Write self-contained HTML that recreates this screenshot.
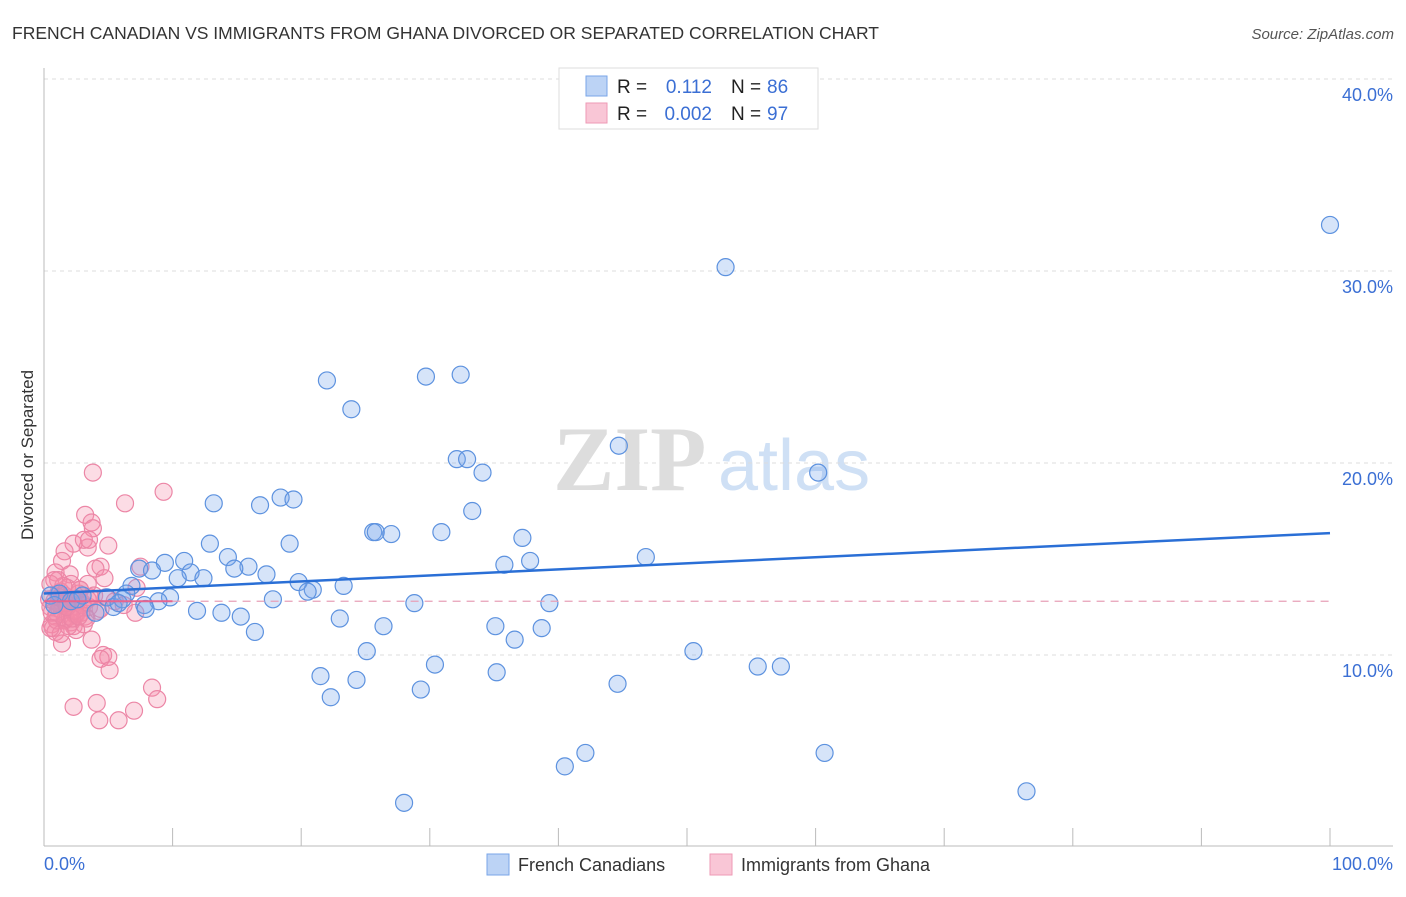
<!DOCTYPE html>
<html><head><meta charset="utf-8"><style>
body{margin:0;background:#fff;font-family:"Liberation Sans",sans-serif;}
</style></head><body>
<svg id="chart" width="1406" height="892" xmlns="http://www.w3.org/2000/svg">
<text x="12" y="39" font-size="17.5" fill="#333">FRENCH CANADIAN VS IMMIGRANTS FROM GHANA DIVORCED OR SEPARATED CORRELATION CHART</text>
<text x="1394" y="39" font-size="15" fill="#555" font-style="italic" text-anchor="end">Source: ZipAtlas.com</text>
<g>
<text x="553" y="490" font-size="92" font-family="Liberation Serif,serif" font-weight="bold" fill="#ddd">ZIP</text>
<text x="718" y="490" font-size="72" fill="#cfe0f5">atlas</text>
</g>
<g id="grid"></g>
<g id="axes"></g>
<g id="pink"></g>
<g id="blue"></g>
<g id="trends"></g>
<text x="33" y="455" font-size="17" fill="#333" text-anchor="middle" transform="rotate(-90 33 455)">Divorced or Separated</text>
<text x="44" y="870" font-size="18" fill="#3b6fd4">0.0%</text>
<text x="1393" y="870" font-size="18" fill="#3b6fd4" text-anchor="end">100.0%</text>
<g>
<rect x="559" y="68" width="259" height="61" fill="#fff" stroke="#ddd"/>
<rect x="586" y="76" width="21" height="20" fill="#bcd3f5" stroke="#7aa6e8"/>
<rect x="586" y="103" width="21" height="20" fill="#f9c6d6" stroke="#ee9ab5"/>
<text x="617" y="93" font-size="19" fill="#222">R = </text><text x="712" y="93" font-size="19" fill="#3b6fd4" text-anchor="end">0.112</text>
<text x="731" y="93" font-size="19" fill="#222">N = </text><text x="767" y="93" font-size="19" fill="#3b6fd4">86</text>
<text x="617" y="120" font-size="19" fill="#222">R = </text><text x="712" y="120" font-size="19" fill="#3b6fd4" text-anchor="end">0.002</text>
<text x="731" y="120" font-size="19" fill="#222">N = </text><text x="767" y="120" font-size="19" fill="#3b6fd4">97</text>
</g>
<g>
<rect x="487" y="854" width="22" height="21" fill="#bcd3f5" stroke="#7aa6e8"/>
<text x="518" y="871" font-size="18" fill="#333">French Canadians</text>
<rect x="710" y="854" width="22" height="21" fill="#f9c6d6" stroke="#ee9ab5"/>
<text x="741" y="871" font-size="18" fill="#333">Immigrants from Ghana</text>
</g>
</svg>
<script>
const yTicks=[10,20,30,40];
const yTickLabels=["10.0%","20.0%","30.0%","40.0%"];
const xTicks=[10,20,30,40,50,60,70,80,90,100];
const blueX=[100,53,22,23.9,29.7,32.4,44.7,60.2,32.1,32.9,34.1,13.2,16.8,18.4,19.4,33.3,25.6,25.8,27,30.9,37.2,19.1,12.9,46.8,37.8,35.8,10.9,9.4,14.3,15.9,14.8,7.4,8.4,11.4,10.4,12.4,17.3,19.8,23.3,20.9,20.5,6.8,6.4,9.8,8.9,17.8,28.8,39.3,7.8,11.9,13.8,15.3,23,26.4,35.1,38.7,16.4,36.6,25.1,50.5,55.5,57.3,30.4,21.5,35.2,24.3,29.3,44.6,22.3,60.7,42.1,40.5,28,76.4,1.2,0.5,4,4.9,5.4,6.1,7.9,2.1,3,0.8,5.8,2.6];
const blueY=[32.4,30.2,24.3,22.8,24.5,24.6,20.9,19.5,20.2,20.2,19.5,17.9,17.8,18.2,18.1,17.5,16.4,16.4,16.3,16.4,16.1,15.8,15.8,15.1,14.9,14.7,14.9,14.8,15.1,14.6,14.5,14.5,14.4,14.3,14,14,14.2,13.8,13.6,13.4,13.3,13.6,13.2,13,12.8,12.9,12.7,12.7,12.6,12.3,12.2,12,11.9,11.5,11.5,11.4,11.2,10.8,10.2,10.2,9.4,9.4,9.5,8.9,9.1,8.7,8.2,8.5,7.8,4.9,4.9,4.2,2.3,2.9,13.2,13.1,12.2,13,12.5,12.9,12.4,12.8,13.1,12.6,12.7,12.9];
const pinkX=[3.8,9.3,6.3,3.2,3.7,3.8,2.3,5,1.6,1.4,3.4,3.1,3.5,7.5,4.4,4,0.9,2,4.7,2.1,1.1,3.4,7.2,2.8,7.1,3.7,1.4,4.6,5,4.4,5.1,8.4,8.8,4.1,2.3,7,4.3,5.8,
0.5,0.8,1,1.2,1.5,1.7,2,2.2,2.5,2.7,3,3.2,3.5,3.9,4.2,0.6,0.9,1.3,1.6,1.9,2.3,2.6,2.9,3.3,3.6,4.4,0.4,0.7,1.1,1.4,1.8,2.1,2.4,2.8,3.1,0.5,0.9,1.2,1.6,2,2.5,3,3.4,0.6,1,1.5,1.9,2.4,0.8,1.3,1.7,2.2,0.5,1.1,1.8,2.7,4.8,5.5,6.2];
const pinkY=[19.5,18.5,17.9,17.3,16.9,16.6,15.8,15.7,15.4,14.9,15.6,16,16,14.6,14.6,14.5,14.3,14.2,14,13.7,13.9,13.7,13.5,13.4,12.2,10.8,10.6,10,9.9,9.8,9.2,8.3,7.7,7.5,7.3,7.1,6.6,6.6,
12.5,12.8,12.2,13,12.6,11.9,12.4,12.9,12.1,13.2,12.7,12,12.5,13.1,12.3,11.6,12,13.3,11.8,12.6,11.5,12.8,12.2,11.9,13,12.4,12.9,11.4,12.7,12.3,13.5,11.7,12.1,13.4,11.6,13.7,11.2,12.4,13.1,12,11.3,12.6,12.9,12.2,11.8,13.6,11.5,12.3,13.9,11.1,12.7,11.9,11.4,13.2,12.5,12,13,12.8,12.6];
const blueTrend=[13.2,16.35];
const pinkTrend=[12.8,12.8];
const sx=v=>44+v*12.86, sy=v=>847-v*19.2;
const NS="http://www.w3.org/2000/svg";
function mk(tag,attrs,parent){const e=document.createElementNS(NS,tag);for(const k in attrs)e.setAttribute(k,attrs[k]);document.getElementById(parent).appendChild(e);return e;}
yTicks.forEach((t,i)=>{
 const l=mk('line',{x1:44,x2:1393,y1:sy(t),y2:sy(t),stroke:'#ddd','stroke-dasharray':'4,4'},'grid');
 
 
 const tx=mk('text',{x:1393,y:sy(t)+22,'font-size':18,fill:'#3b6fd4','text-anchor':'end'},'grid');
 tx.textContent=yTickLabels[i];
 
 
});
let a=mk('line',{x1:44,x2:44,y1:68,y2:846,stroke:'#bbb'},'axes');


a=mk('line',{x1:44,x2:1393,y1:846,y2:846,stroke:'#bbb'},'axes');


xTicks.forEach(t=>{const l=mk('line',{x1:sx(t),x2:sx(t),y1:828,y2:846,stroke:'#bbb'},'axes');
 
 });
pinkX.forEach((x,i)=>{const c=mk('circle',{cx:sx(x),cy:sy(pinkY[i]),r:8.5,fill:'rgba(244,140,170,0.3)',stroke:'#ec86a6','stroke-width':1.2},'pink');
 
 });
blueX.forEach((x,i)=>{const c=mk('circle',{cx:sx(x),cy:sy(blueY[i]),r:8.5,fill:'rgba(120,165,235,0.3)',stroke:'#5d92df','stroke-width':1.2},'blue');
 
 });
let t=mk('line',{x1:sx(0),x2:sx(10),y1:sy(pinkTrend[0]),y2:sy(pinkTrend[0]+(pinkTrend[1]-pinkTrend[0])*0.1),stroke:'#e8638e','stroke-width':2},'trends');


t=mk('line',{x1:sx(10),x2:sx(100),y1:sy(pinkTrend[0]),y2:sy(pinkTrend[1]),stroke:'#e8a0b8','stroke-width':1.2,'stroke-dasharray':'8,6'},'trends');


t=mk('line',{x1:sx(0),x2:sx(100),y1:sy(blueTrend[0]),y2:sy(blueTrend[1]),stroke:'#2a6fd6','stroke-width':2.5},'trends');


</script>
</body></html>
